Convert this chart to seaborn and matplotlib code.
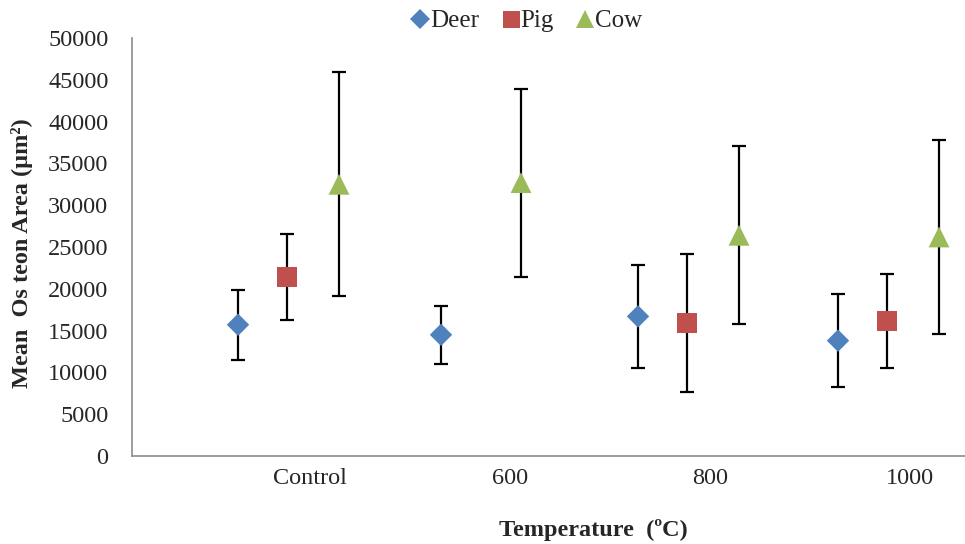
import numpy as np
import pandas as pd
import matplotlib
matplotlib.use("Agg")
import matplotlib.pyplot as plt
from matplotlib.lines import Line2D
import seaborn as sns

# Mean osteon area (µm²) with standard deviations, by treatment temperature
categories = ["Control", "600", "800", "1000"]
deer_mean = [15700, 14500, 16700, 13800]
deer_sd = [4200, 3450, 6200, 5600]
pig_mean = [21400, np.nan, 15900, 16150]
pig_sd = [5150, np.nan, 8250, 5600]
cow_mean = [32500, 32700, 26400, 26200]
cow_sd = [13400, 11250, 10650, 11600]

species = ["Deer", "Pig", "Cow"]
colors = {"Deer": "#4F81BD", "Pig": "#C0504D", "Cow": "#9BBB59"}
markers = {"Deer": "D", "Pig": "s", "Cow": "^"}
msize = {"Deer": 11.4, "Pig": 14.4, "Cow": 15.0}
# horizontal placement of each species within its temperature group
offset = {"Deer": -0.36, "Pig": -0.115, "Cow": 0.145}
group_nudge = {("Cow", "600"): -0.09, ("Deer", "600"): 0.015}

rows = []
for sp, means, sds in [("Deer", deer_mean, deer_sd),
                       ("Pig", pig_mean, pig_sd),
                       ("Cow", cow_mean, cow_sd)]:
    for i, (cat, m, s) in enumerate(zip(categories, means, sds)):
        if np.isnan(m):
            continue
        x = i + offset[sp] + group_nudge.get((sp, cat), 0.0)
        rows.append({"species": sp, "temperature": cat, "x": x,
                     "area": m, "sd": s})
df = pd.DataFrame(rows)

sns.set_theme(style="white")
plt.rcParams["font.family"] = ["Liberation Serif", "DejaVu Serif"]

fig = plt.figure(figsize=(9.65, 5.44), dpi=100)
ax = fig.add_axes([132 / 965, 1 - 456 / 544, 1 - 132 / 965, (456 - 38) / 544])

for sp in species:
    sub = df[df["species"] == sp]
    ax.errorbar(sub["x"], sub["area"], yerr=sub["sd"], fmt="none",
                ecolor="black", elinewidth=1.6, capsize=5, capthick=1.6,
                zorder=2)
    sns.scatterplot(data=sub, x="x", y="area", marker=markers[sp],
                    color=colors[sp], s=msize[sp] ** 2, edgecolor="none",
                    linewidth=0, ax=ax, zorder=3, legend=False)

ax.set_xlim(-0.89, 3.275)
ax.set_ylim(0, 50000)
ax.set_yticks(np.arange(0, 50001, 5000))
ax.set_yticklabels([str(v) for v in range(0, 50001, 5000)])
ax.set_xticks(range(len(categories)))
ax.set_xticklabels(categories)
ax.tick_params(axis="y", length=0, pad=17, labelsize=17.5)
ax.tick_params(axis="x", length=0, pad=9, labelsize=17.5)
ax.set_xlabel("")
ax.set_ylabel("")

for side in ["top", "right"]:
    ax.spines[side].set_visible(False)
for side in ["left", "bottom"]:
    ax.spines[side].set_color("#8c8c8c")
    ax.spines[side].set_linewidth(1.2)

fig.text(22 / 965, 1 - 253 / 544, "Mean  Os teon Area (µm²)", rotation=90,
         ha="center", va="center", fontsize=17.5, fontweight="bold")
fig.text(593 / 965, 1 - 530 / 544, "Temperature  (ºC)", ha="center",
         va="center", fontsize=17.5, fontweight="bold")

handles = [Line2D([], [], linestyle="none", marker=markers[sp],
                  markersize=msize[sp] * 0.85, color=colors[sp],
                  markeredgewidth=0, label=sp) for sp in species]
fig.legend(handles=handles, loc="center", bbox_to_anchor=(527 / 965, 1 - 21 / 544),
           ncol=3, frameon=False, fontsize=18, handlelength=0.7,
           handletextpad=0.05, columnspacing=0.9, borderpad=0)

fig.savefig("out.png", dpi=100)
